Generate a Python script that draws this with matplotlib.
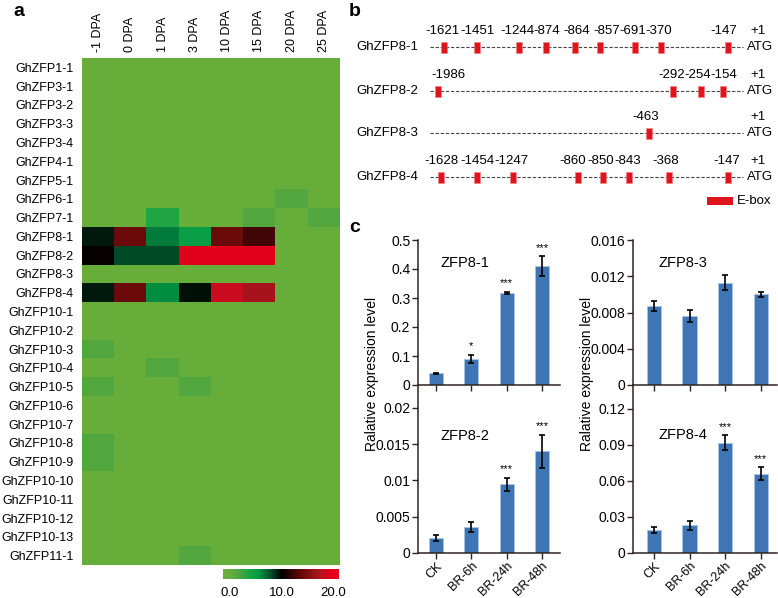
import numpy as np
import matplotlib
matplotlib.use("Agg")
import matplotlib.pyplot as plt
from matplotlib.colors import LinearSegmentedColormap, Normalize
from matplotlib.patches import Rectangle

plt.rcParams['font.family'] = ['Liberation Sans', 'DejaVu Sans']

W, H = 778, 598

# ---------------- panel a: heatmap data
genes = ["GhZFP1-1", "GhZFP3-1", "GhZFP3-2", "GhZFP3-3", "GhZFP3-4", "GhZFP4-1",
         "GhZFP5-1", "GhZFP6-1", "GhZFP7-1", "GhZFP8-1", "GhZFP8-2", "GhZFP8-3",
         "GhZFP8-4", "GhZFP10-1", "GhZFP10-2", "GhZFP10-3", "GhZFP10-4", "GhZFP10-5",
         "GhZFP10-6", "GhZFP10-7", "GhZFP10-8", "GhZFP10-9", "GhZFP10-10",
         "GhZFP10-11", "GhZFP10-12", "GhZFP10-13", "GhZFP11-1"]
stages = ["-1 DPA", "0 DPA", "1 DPA", "3 DPA", "10 DPA", "15 DPA", "20 DPA", "25 DPA"]
expr = [
    [0, 0, 0, 0, 0, 0, 0, 0],          # 1-1
    [0, 0, 0, 0, 0, 0, 0, 0],          # 3-1
    [0, 0, 0, 0, 0, 0, 0, 0],          # 3-2
    [0, 0, 0, 0, 0, 0, 0, 0],          # 3-3
    [0, 0, 0, 0, 0, 0, 0, 0],          # 3-4
    [0, 0, 0, 0, 0, 0, 0, 0],          # 4-1
    [0, 0, 0, 0, 0, 0, 0, 0],          # 5-1
    [0, 0, 0, 0, 0, 0, 1.5, 0],        # 6-1
    [0, 0, 3.5, 0, 0, 1.5, 0, 1.5],    # 7-1
    [9.3, 14, 6.5, 5, 14, 12.5, 0, 0],  # 8-1
    [10.3, 8, 8, 20, 20, 20, 0, 0],    # 8-2
    [0, 0, 0, 0, 0, 0, 0, 0],          # 8-3
    [9.3, 14, 6, 9.6, 18.5, 17, 0, 0],  # 8-4
    [0, 0, 0, 0, 0, 0, 0, 0],          # 10-1
    [0, 0, 0, 0, 0, 0, 0, 0],          # 10-2
    [1.5, 0, 0, 0, 0, 0, 0, 0],        # 10-3
    [0, 0, 1.5, 0, 0, 0, 0, 0],        # 10-4
    [1.5, 0, 0, 1.5, 0, 0, 0, 0],      # 10-5
    [0, 0, 0, 0, 0, 0, 0, 0],          # 10-6
    [0, 0, 0, 0, 0, 0, 0, 0],          # 10-7
    [1.5, 0, 0, 0, 0, 0, 0, 0],        # 10-8
    [1.5, 0, 0, 0, 0, 0, 0, 0],        # 10-9
    [0, 0, 0, 0, 0, 0, 0, 0],          # 10-10
    [0, 0, 0, 0, 0, 0, 0, 0],          # 10-11
    [0, 0, 0, 0, 0, 0, 0, 0],          # 10-12
    [0, 0, 0, 0, 0, 0, 0, 0],          # 10-13
    [0, 0, 0, 1.5, 0, 0, 0, 0],        # 11-1
]
cbar_ticks = [0, 10, 20]
cbar_labels = ["0.0", "10.0", "20.0"]

# ---------------- panel b: promoter E-box sites (schematic positions)
promoters = ["GhZFP8-1", "GhZFP8-2", "GhZFP8-3", "GhZFP8-4"]
sites = [
    ["-1621", "-1451", "-1244", "-874", "-864", "-857", "-691", "-370", "-147"],
    ["-1986", "-292", "-254", "-154"],
    ["-463"],
    ["-1628", "-1454", "-1247", "-860", "-850", "-843", "-368", "-147"],
]
box_pos = [
    [444, 477, 519, 546, 575, 600, 635, 661, 728],
    [438, 673, 701, 723],
    [649],
    [441, 477, 513, 578, 603, 629, 669, 728],
]
label_pos = [
    [443, 478, 517, 547, 577, 607, 633, 659, 724],
    [448, 672, 698, 724],
    [646],
    [441, 477, 511, 573, 601, 628, 666, 727],
]

# ---------------- panel c: qRT-PCR
conditions = ["CK", "BR-6h", "BR-24h", "BR-48h"]
zfp81 = [0.040, 0.090, 0.318, 0.410]
zfp81_err = [0.002, 0.014, 0.004, 0.035]
zfp81_sig = ["", "*", "***", "***"]
zfp83 = [0.0087, 0.0076, 0.0113, 0.0100]
zfp83_err = [0.00055, 0.00065, 0.00085, 0.0003]
zfp83_sig = ["", "", "", ""]
zfp82 = [0.0021, 0.0036, 0.0095, 0.0140]
zfp82_err = [0.0004, 0.0007, 0.0009, 0.0023]
zfp82_sig = ["", "", "***", "***"]
zfp84 = [0.019, 0.023, 0.092, 0.066]
zfp84_err = [0.0027, 0.0038, 0.0060, 0.0054]
zfp84_sig = ["", "", "***", "***"]


def rect(l, t, r, b):
    return [l / W, 1 - b / H, (r - l) / W, (b - t) / H]


fig = plt.figure(figsize=(W / 100, H / 100), dpi=100)

# overlay in pixel coords for panel b and loose texts
ov = fig.add_axes([0, 0, 1, 1])
ov.set_xlim(0, W)
ov.set_ylim(H, 0)
ov.axis("off")
ov.patch.set_alpha(0)

# ---------- heatmap
vmin, vmax = -1.4, 21.2
anchors = [(-1.4, '#6aaf3a'), (0, '#66ad3b'), (1.5, '#52a63f'), (3.5, '#20a545'),
           (5.5, '#009c45'), (8, '#004a28'), (10, '#000000'), (14, '#6a0a0a'),
           (17.5, '#b01520'), (19.5, '#e2001b'), (21.2, '#e8001c')]
cmap = LinearSegmentedColormap.from_list(
    "gkr", [((v - vmin) / (vmax - vmin), c) for v, c in anchors])
norm = Normalize(vmin, vmax)

axh = fig.add_axes(rect(82, 58, 340, 565))
axh.imshow(np.array(expr), cmap=cmap, norm=norm, aspect="auto", interpolation="nearest")
axh.set_yticks(range(len(genes)))
axh.set_yticklabels(genes, fontsize=9)
axh.set_xticks(range(len(stages)))
axh.set_xticklabels(stages, rotation=90, fontsize=9)
axh.xaxis.tick_top()
axh.tick_params(axis="y", length=0, pad=6)
axh.tick_params(axis="x", length=0, pad=4)
for s in axh.spines.values():
    s.set_visible(False)

axc = fig.add_axes(rect(223, 569, 339, 579))
grad = np.linspace(vmin, vmax, 256).reshape(1, -1)
axc.imshow(grad, cmap=cmap, norm=norm, aspect="auto", extent=[vmin, vmax, 0, 1])
axc.set_xlim(vmin, vmax)
axc.set_yticks([])
axc.set_xticks(cbar_ticks)
axc.set_xticklabels(cbar_labels, fontsize=9.5)
axc.tick_params(length=0, pad=6)
for s in axc.spines.values():
    s.set_visible(False)

# ---------- panel b
line_y = [47, 91, 133, 177]
for g, name in enumerate(promoters):
    y = line_y[g]
    ov.plot([430, 743], [y, y], color="#444444", lw=0.8, dashes=(3, 1.6))
    ov.text(418, y, name, ha="right", va="center", fontsize=9.5)
    ov.text(747, y, "ATG", ha="left", va="center", fontsize=9.5)
    ov.text(758, y - 16, "+1", ha="center", va="center", fontsize=9.5)
    for bx in box_pos[g]:
        ov.add_patch(Rectangle((bx - 3.3, y - 5.5), 6.6, 11, facecolor="#e0141c",
                               edgecolor="#f08080", lw=0.4, zorder=3))
    for lx, lab in zip(label_pos[g], sites[g]):
        ov.text(lx, y - 16, lab, ha="center", va="center", fontsize=9.5)
ov.add_patch(Rectangle((707, 197), 26, 8, facecolor="#e0141c", edgecolor="none"))
ov.text(737, 201, "E-box", ha="left", va="center", fontsize=9.5)

# panel letters
for lx, ly, lab in [(19, 12, "a"), (355, 12, "b"), (355, 228, "c")]:
    ov.text(lx, ly, lab, ha="center", va="center", fontsize=14, fontweight="bold")

# ---------- panel c
bar_col = "#3f74b5"
spine_col = "#2e2420"


def draw_bars(r, vals, errs, sig, ylim, ticks, ticklabels, name, name_xy, xlim, xlabels):
    ax = fig.add_axes(rect(*r))
    x = np.arange(len(vals))
    ax.bar(x, vals, width=0.4, color=bar_col, edgecolor="#a9c4e4", linewidth=0.6)
    ax.errorbar(x, vals, yerr=errs, fmt="none", ecolor="black", elinewidth=1.2,
                capsize=2.5, capthick=1.2)
    for xi, v, e, s in zip(x, vals, errs, sig):
        if s:
            ax.annotate(s, (xi, v + e), xytext=(0, 6), textcoords="offset points",
                        ha="center", va="center", fontsize=8)
    ax.set_ylim(*ylim)
    ax.set_xlim(*xlim)
    ax.set_yticks(ticks)
    ax.set_yticklabels(ticklabels, fontsize=10)
    ax.set_xticks(x)
    if xlabels:
        ax.set_xticklabels(conditions, rotation=45, ha="right", rotation_mode="anchor",
                           fontsize=9)
    else:
        ax.set_xticklabels([])
    ax.tick_params(direction="out", length=4, width=1, color=spine_col, pad=1.5)
    ax.tick_params(axis="x", pad=1)
    for s in ["top", "right"]:
        ax.spines[s].set_visible(False)
    for s in ["left", "bottom"]:
        ax.spines[s].set_color(spine_col)
        ax.spines[s].set_linewidth(1.1)
    ax.patch.set_alpha(0)
    ov.text(name_xy[0], name_xy[1], name, ha="left", va="center", fontsize=10.5)
    return ax


draw_bars((418, 240, 560, 385), zfp81, zfp81_err, zfp81_sig, (0, 0.5),
          [0, 0.1, 0.2, 0.3, 0.4, 0.5], ["0", "0.1", "0.2", "0.3", "0.4", "0.5"],
          "ZFP8-1", (441, 263), (-0.51, 3.51), False)
draw_bars((633, 240, 777, 385), zfp83, zfp83_err, zfp83_sig, (0, 0.016),
          [0, 0.004, 0.008, 0.012, 0.016], ["0", "0.004", "0.008", "0.012", "0.016"],
          "ZFP8-3", (659, 263), (-0.59, 3.46), False)
draw_bars((418, 385, 560, 553), zfp82, zfp82_err, zfp82_sig, (0, 0.02317),
          [0, 0.005, 0.01, 0.015, 0.02], ["0", "0.005", "0.01", "0.015", "0.02"],
          "ZFP8-2", (441, 436), (-0.51, 3.51), True)
draw_bars((633, 385, 777, 553), zfp84, zfp84_err, zfp84_sig, (0, 0.14),
          [0, 0.03, 0.06, 0.09, 0.12], ["0", "0.03", "0.06", "0.09", "0.12"],
          "ZFP8-4", (659, 435), (-0.59, 3.46), True)

ov.text(372, 374, "Ralative expression level", rotation=90, ha="center", va="center",
        fontsize=10)
ov.text(587, 374, "Ralative expression level", rotation=90, ha="center", va="center",
        fontsize=10)

fig.savefig("out.png", dpi=100)
